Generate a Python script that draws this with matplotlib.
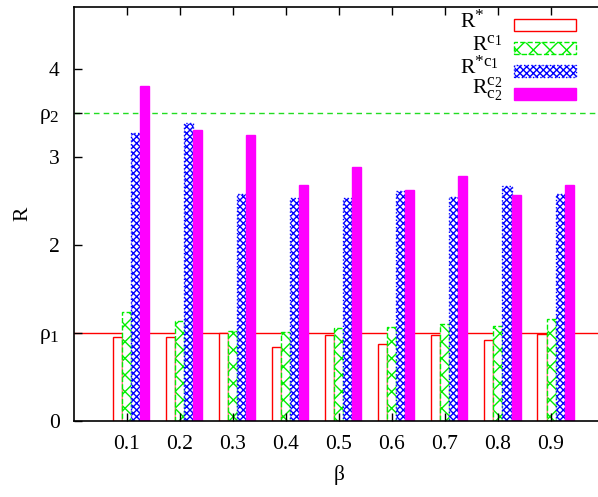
import numpy as np
import matplotlib.pyplot as plt
import matplotlib._mathtext as mathtext_internal
from matplotlib.patches import Rectangle

plt.rcParams['font.family'] = ['Liberation Serif', 'DejaVu Serif']
plt.rcParams['mathtext.fontset'] = 'custom'
plt.rcParams['mathtext.rm'] = 'Liberation Serif'
plt.rcParams['mathtext.it'] = 'Liberation Serif:italic'
plt.rcParams['hatch.linewidth'] = 1.0
# gnuplot draws sub/superscripts larger than mathtext does
mathtext_internal.SHRINK_FACTOR = 0.8

# data
beta = [0.1, 0.2, 0.3, 0.4, 0.5, 0.6, 0.7, 0.8, 0.9]
r_star = [0.95, 0.955, 0.997, 0.845, 0.973, 0.879, 0.974, 0.917, 0.989]
r_c1 = [1.235, 1.136, 1.02, 1.01, 1.06, 1.072, 1.106, 1.08, 1.165]
r_star_c1 = [3.28, 3.386, 2.576, 2.534, 2.534, 2.617, 2.55, 2.67, 2.576]
r_c2 = [3.81, 3.31, 3.25, 2.68, 2.886, 2.63, 2.79, 2.57, 2.685]
rho1 = 1.0
rho2 = 3.5

W, H = 598, 497
fig = plt.figure(figsize=(W / 100, H / 100), dpi=100)
ax = fig.add_axes([73.66 / W, (H - 421) / H, 530.4 / W, 413.7 / H])

x = np.array(beta)
w = 0.017
fs = 15.5

ax.axhline(rho1, color='#ff0000', lw=1.0, zorder=0.5)
ax.axhline(rho2, color='#22dd22', lw=1.0, ls=(0, (4, 3)), zorder=0.5)

ax.bar(x - w, r_star, w, facecolor='white', edgecolor='#ff0000', lw=1.0, zorder=1)
ax.bar(x, r_c1, w, facecolor='white', edgecolor='#00ee00', hatch='xx',
       lw=1.0, ls='--', zorder=1)
ax.bar(x + w, r_star_c1, w, facecolor='white', edgecolor='#0000ff', hatch='xxxxx',
       lw=1.0, ls=':', zorder=1)
ax.bar(x + 2 * w, r_c2, w, facecolor='#ff00ff', edgecolor='#ff00ff', lw=1.0, zorder=1)

ax.set_xlim(0, 1.0)
ax.set_ylim(0, 4.705)
ax.set_xticks(beta)
ax.set_xticklabels([f'{b:.1f}' for b in beta], fontsize=fs)
ax.set_yticks([0, rho1, 2, 3, rho2, 4])
ax.set_yticklabels(['0', r'$\mathregular{ρ_1}$', '2', '3', r'$\mathregular{ρ_2}$', '4'],
                   fontsize=fs)
ax.tick_params(direction='in', length=6, width=1, top=True, right=False, pad=10)
for s in ax.spines.values():
    s.set_linewidth(1.2)
ax.set_xlabel('β', fontsize=fs, labelpad=8)
ax.set_ylabel('R', fontsize=fs, labelpad=5)

# legend drawn by hand (text left of the keys, gnuplot style)
labels = [r'$\mathregular{R^{*}}$', r'$\mathregular{R^{c_1}}$',
          r'$\mathregular{R^{{*}c_1}}$', r'$\mathregular{R^{c_2}_{c_2}}$']
text_x = [460, 472, 460, 472]
text_base = [28.5, 50, 74, 94]
key_top = [19.3, 42.3, 65, 88.3]
key_style = [
    dict(facecolor='white', edgecolor='#ff0000', lw=1.0),
    dict(facecolor='white', edgecolor='#00ee00', hatch='xx', lw=1.0, ls='--'),
    dict(facecolor='white', edgecolor='#0000ff', hatch='xxxxx', lw=1.0, ls=':'),
    dict(facecolor='#ff00ff', edgecolor='#ff00ff', lw=1.0),
]
for lab, tx, tb, kt, st in zip(labels, text_x, text_base, key_top, key_style):
    fig.text(tx / W, (H - tb) / H, lab, fontsize=fs, ha='left', va='baseline')
    fig.add_artist(Rectangle((514 / W, (H - kt - 11.5) / H), 62 / W, 11.5 / H,
                             transform=fig.transFigure, **st))

fig.savefig('out.png', dpi=100)
